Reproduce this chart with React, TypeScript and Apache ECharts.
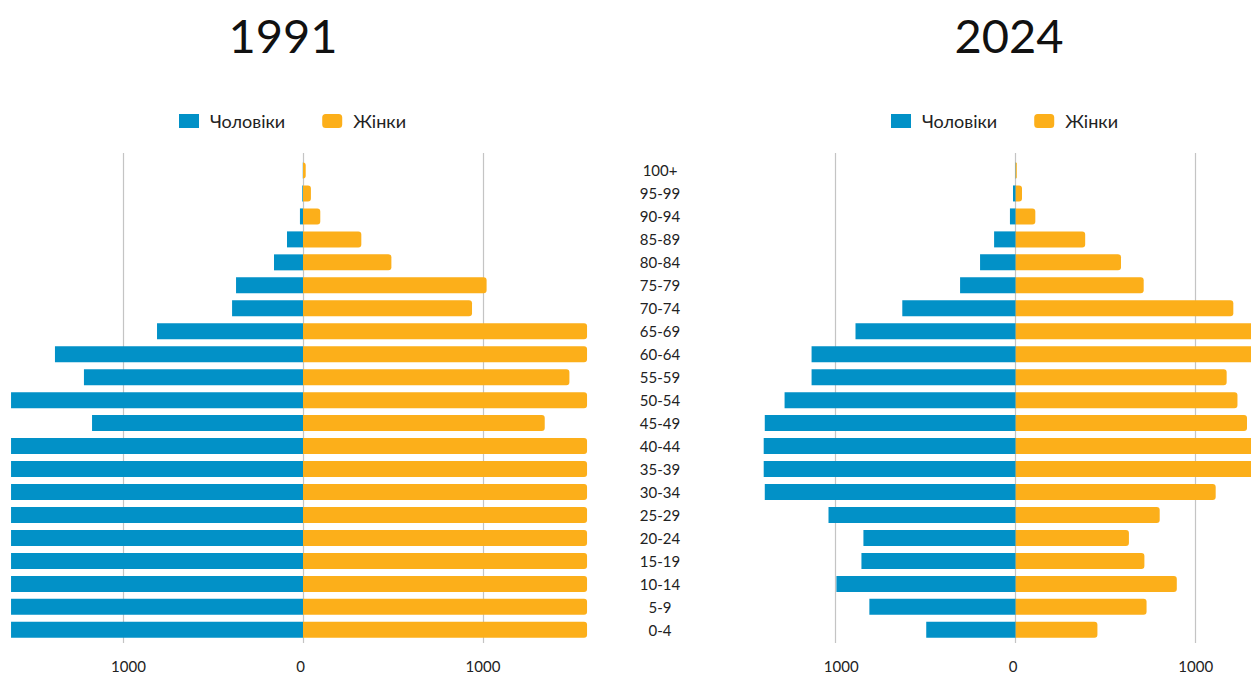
import React, { useEffect, useRef } from "react";
import * as echarts from "echarts";

const categories = ["0-4", "5-9", "10-14", "15-19", "20-24", "25-29", "30-34", "35-39", "40-44", "45-49", "50-54", "55-59", "60-64", "65-69", "70-74", "75-79", "80-84", "85-89", "90-94", "95-99", "100+"];

const male1991 = [1880, 1860, 1850, 1790, 1740, 1830, 1960, 1890, 1700, 1172, 1650, 1217, 1378, 811, 394, 372, 161, 89, 17, 4, 1];
const female1991 = [1800, 1820, 1810, 1760, 1750, 1860, 1990, 1940, 1800, 1343, 1900, 1480, 1750, 1650, 939, 1020, 491, 324, 96, 44, 15];

const male2024 = [497, 813, 996, 857, 846, 1040, 1394, 1400, 1400, 1394, 1284, 1134, 1134, 890, 630, 309, 198, 120, 32, 15, 2];
const female2024 = [454, 727, 895, 715, 629, 800, 1111, 1340, 1330, 1285, 1232, 1172, 1360, 1380, 1209, 711, 585, 386, 109, 35, 6];

const years = ["1991", "2024"];
const seriesNames = ["Чоловіки", "Жінки"];
const gridTicks = [-1000, 0, 1000];

const BLUE = "#0291c7";
const ORANGE = "#fcaf1a";
const FONT = "Lato, 'Noto Sans', sans-serif";

export default function App() {
  const ref = useRef<HTMLDivElement>(null);

  useEffect(() => {
    if (!ref.current) return;
    const chart = echarts.init(ref.current, null, { renderer: "svg" });

    const panels = [
      { zero: 303, male: male1991, female: female1991, title: years[0], titleX: 283, legendX: 179, showCats: true },
      { zero: 1015.7, male: male2024, female: female2024, title: years[1], titleX: 1009, legendX: 891, showCats: false },
    ];
    const scale = 0.18; // px per unit
    const barMin = -1622;
    const barMax = 1578;

    const grids: any[] = [];
    const xAxes: any[] = [];
    const yAxes: any[] = [];
    const series: any[] = [];
    const legends: any[] = [];
    const graphics: any[] = [];

    panels.forEach((p, i) => {
      const barLeft = p.zero + barMin * scale;
      const barWidthPx = (barMax - barMin) * scale;
      const lineLeft = p.zero + gridTicks[0] * scale;
      const lineWidthPx = (gridTicks[2] - gridTicks[0]) * scale;
      grids.push({ left: barLeft, width: barWidthPx, top: 159, height: 482.3, containLabel: false });
      grids.push({ left: lineLeft, width: lineWidthPx, top: 153, height: 493, containLabel: false });
      const gb = i * 2;
      const gl = i * 2 + 1;
      xAxes.push({
        type: "value", gridIndex: gb, min: barMin, max: barMax,
        splitLine: { show: false }, axisLine: { show: false }, axisTick: { show: false }, axisLabel: { show: false },
      });
      xAxes.push({
        type: "value", gridIndex: gl, min: gridTicks[0], max: gridTicks[2], interval: 1000,
        splitLine: { show: true, lineStyle: { color: "#c4c4c4", width: 1.2 } },
        axisLine: { show: false }, axisTick: { show: false },
        axisLabel: {
          show: true, margin: 15, fontSize: 15, fontFamily: FONT, color: "#222",
          formatter: (v: number) => (v < 0 ? `{neg|${-v}}` : v === 0 ? `{zero|0}` : `{pos|${v}}`),
          rich: {
            neg: { fontSize: 15, fontFamily: FONT, color: "#222", padding: [0, 0, 0, 11] },
            zero: { fontSize: 15, fontFamily: FONT, color: "#222", padding: [0, 5, 0, 0] },
            pos: { fontSize: 15, fontFamily: FONT, color: "#222" },
          },
        },
      });
      yAxes.push({
        type: "category", gridIndex: gb, data: categories, position: "right",
        axisLine: { show: false }, axisTick: { show: false },
        axisLabel: { show: p.showCats, align: "center", margin: 73, fontSize: 15, fontFamily: FONT, color: "#222", interval: 0 },
      });
      yAxes.push({ type: "value", gridIndex: gl, show: false, min: 0, max: 1, splitLine: { show: false } });

      series.push({
        name: seriesNames[0], type: "bar", xAxisIndex: gb, yAxisIndex: gb,
        data: p.male.map((v) => -v), barWidth: 16, barGap: "-100%",
        itemStyle: { color: BLUE }, clip: true,
      });
      series.push({
        name: seriesNames[1], type: "bar", xAxisIndex: gb, yAxisIndex: gb,
        data: p.female, barWidth: 16, barGap: "-100%",
        itemStyle: { color: ORANGE, borderRadius: [0, 3, 3, 0] }, clip: true,
      });

      legends.push({
        left: p.legendX, top: 112, padding: 0, itemWidth: 20, itemHeight: 14, itemGap: 37,
        data: [{ name: seriesNames[0], icon: "rect" }, { name: seriesNames[1], icon: "roundRect" }],
        textStyle: { fontSize: 18, fontFamily: FONT, color: "#222", padding: [0, 0, 0, 6] },
        selectedMode: false,
      });

      graphics.push({
        type: "text", x: p.titleX, y: 35,
        style: { text: p.title, fontSize: 47, fontFamily: FONT, fill: "#111", align: "center", verticalAlign: "middle" },
      });
    });

    chart.setOption({
      animation: false,
      backgroundColor: "#ffffff",
      color: [BLUE, ORANGE],
      grid: grids,
      xAxis: xAxes,
      yAxis: yAxes,
      series,
      legend: legends,
      graphic: graphics,
    });

    return () => chart.dispose();
  }, []);

  return (
    <div style={{ position: "fixed", left: 0, top: 0, width: 1251, height: 673, overflow: "hidden", background: "#fff" }}>
      <div ref={ref} style={{ width: 1320, height: 673 }} />
    </div>
  );
}
